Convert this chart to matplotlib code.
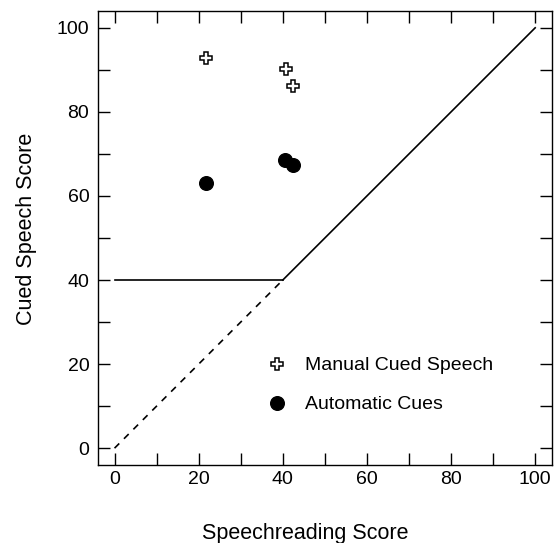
import matplotlib
matplotlib.use("Agg")
import matplotlib.pyplot as plt
from matplotlib.ticker import MultipleLocator

plt.rcParams['font.family'] = ['Liberation Sans', 'DejaVu Sans']

# Data
manual_x = [21.8, 40.8, 42.5]
manual_y = [92.9, 90.1, 86.1]
auto_x = [21.8, 40.6, 42.5]
auto_y = [63.2, 68.6, 67.3]

# Reference lines: floor at 40 and identity line
floor_x = [0, 40]
floor_y = [40, 40]
diag_x = [40, 100]
diag_y = [40, 100]
dash_x = [0, 40]
dash_y = [0, 40]

xticks = [0, 20, 40, 60, 80, 100]
yticks = [0, 20, 40, 60, 80, 100]

fig = plt.figure(figsize=(5.54, 5.43), dpi=100)
ax = fig.add_axes([97.7/554, 1-465/543, (552-97.7)/554, (465-11)/543])

ax.plot(floor_x, floor_y, color='black', lw=1.2)
ax.plot(diag_x, diag_y, color='black', lw=1.2)
ax.plot(dash_x, dash_y, color='black', lw=1.2, linestyle=(0, (4, 4)))

ax.plot(manual_x, manual_y, linestyle='none', marker='P', markersize=8.5,
        markerfacecolor='white', markeredgecolor='black', markeredgewidth=1.1,
        label='Manual Cued Speech')
ax.plot(auto_x, auto_y, linestyle='none', marker='o', markersize=9.8,
        markerfacecolor='black', markeredgecolor='black',
        label='Automatic Cues')

ax.set_xlim(-4, 104)
ax.set_ylim(-4, 104)
ax.set_xticks(xticks)
ax.set_yticks(yticks)
ax.xaxis.set_minor_locator(MultipleLocator(10))
ax.yaxis.set_minor_locator(MultipleLocator(10))
ax.tick_params(which='both', direction='in', length=8.6, width=1.0,
               top=True, right=True, labelsize=14)
ax.tick_params(axis='x', pad=4)
ax.tick_params(axis='y', pad=6)
for s in ax.spines.values():
    s.set_linewidth(1.0)

ax.set_xlabel('Speechreading Score', fontsize=15.5)
ax.set_ylabel('Cued Speech Score', fontsize=15.5)
ax.xaxis.set_label_coords((305-97.7)/454.3, -(523-465)/454)
ax.yaxis.set_label_coords(-(97.7-37)/454.3, (465-228.5)/454)

ax.legend(loc='center left', bbox_to_anchor=(0.3727, 0.176), frameon=False,
          borderpad=0, borderaxespad=0, numpoints=1, handlelength=1.0,
          handletextpad=0.96, labelspacing=1.1, fontsize=14)

fig.savefig('out.png', dpi=100)
